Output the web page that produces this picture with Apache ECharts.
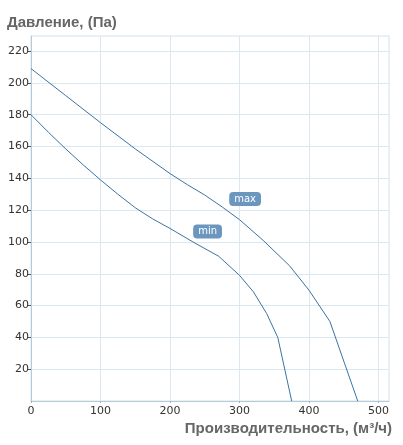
<!DOCTYPE html>
<html><head><meta charset="utf-8">
<script src="https://cdn.jsdelivr.net/npm/echarts@6/dist/echarts.min.js"></script>
<style>html,body{margin:0;padding:0;background:#fff}#c{width:403px;height:445px}</style>
</head><body><div id="c"></div>
<script>
var maxFlow = [0, 50, 100, 150, 200, 225, 250, 275, 300, 334, 372, 400, 430, 470];
var maxPressure = [209, 192, 175, 158.5, 143, 136, 129.5, 122, 114, 101, 85, 69.6, 50, 0];
var minFlow = [0, 25, 50, 75, 100, 125, 150, 175, 200, 233, 270, 300, 320, 339, 355, 375];
var minPressure = [180, 169, 158.5, 148.5, 139, 130, 121.5, 114.5, 108.5, 100, 91, 79, 68.6, 55, 40, 0];
var seriesNames = ['max', 'min'];
var labelPos = [[308, 127], [254, 106.5]];
var xTicks = [0, 100, 200, 300, 400, 500];
var yTicks = [20, 40, 60, 80, 100, 120, 140, 160, 180, 200, 220];

function pairs(xs, ys) { return xs.map(function (x, i) { return [x, ys[i]]; }); }

var lineColor = '#3b73a4';
var chart = echarts.init(document.getElementById('c'), null, {renderer: 'canvas'});
function mk(name, data, pos) {
  return {
    type: 'line', name: name, data: data, symbol: 'none', smooth: false,
    lineStyle: {color: lineColor, width: 1}, silent: true,
    markPoint: {
      symbol: 'circle', symbolSize: 0, silent: true,
      data: [{coord: pos}],
      label: {
        show: true, position: 'inside', formatter: name,
        color: '#fff', fontFamily: 'DejaVu Sans', fontSize: 10,
        backgroundColor: '#6b97bf', borderRadius: 4,
        padding: [2, 5, 2, 5]
      }
    }
  };
}
chart.setOption({
  animation: false,
  title: [
    {text: 'Давление, (Па)', left: 7, top: 15, padding: 0,
     textStyle: {fontFamily: 'Liberation Sans', fontWeight: 'bold', fontSize: 15, color: '#666'}},
    {text: 'Производительность, (м³/ч)', right: 11, top: 421, padding: 0,
     textStyle: {fontFamily: 'Liberation Sans', fontWeight: 'bold', fontSize: 15, color: '#666'}}
  ],
  grid: {left: 31, right: 14, top: 36, bottom: 44, show: true, borderColor: '#d3e2ec', borderWidth: 1},
  xAxis: {
    type: 'value', min: 0, max: 515, interval: 100,
    axisLine: {show: true, lineStyle: {color: '#b5cbd9'}},
    axisTick: {show: true, length: 2, customValues: xTicks, lineStyle: {color: '#9fb5c4'}},
    splitLine: {show: true, lineStyle: {color: '#dce8f0'}},
    axisLabel: {fontFamily: 'DejaVu Sans', fontSize: 11, color: '#333', margin: 5,
      formatter: function (v) { return xTicks.indexOf(v) >= 0 ? String(v) : ''; }}
  },
  yAxis: {
    type: 'value', min: 0, max: 229.5, interval: 20,
    axisLine: {show: true, lineStyle: {color: '#b5cbd9'}},
    axisTick: {show: true, length: 3, customValues: yTicks, lineStyle: {color: '#555'}},
    splitLine: {show: true, lineStyle: {color: '#dce8f0'}},
    axisLabel: {fontFamily: 'DejaVu Sans', fontSize: 11, color: '#333', margin: 2,
      showMinLabel: false,
      formatter: function (v) { return yTicks.indexOf(v) >= 0 ? String(v) : ''; }}
  },
  series: [
    mk(seriesNames[0], pairs(maxFlow, maxPressure), labelPos[0]),
    mk(seriesNames[1], pairs(minFlow, minPressure), labelPos[1])
  ]
});
</script></body></html>
